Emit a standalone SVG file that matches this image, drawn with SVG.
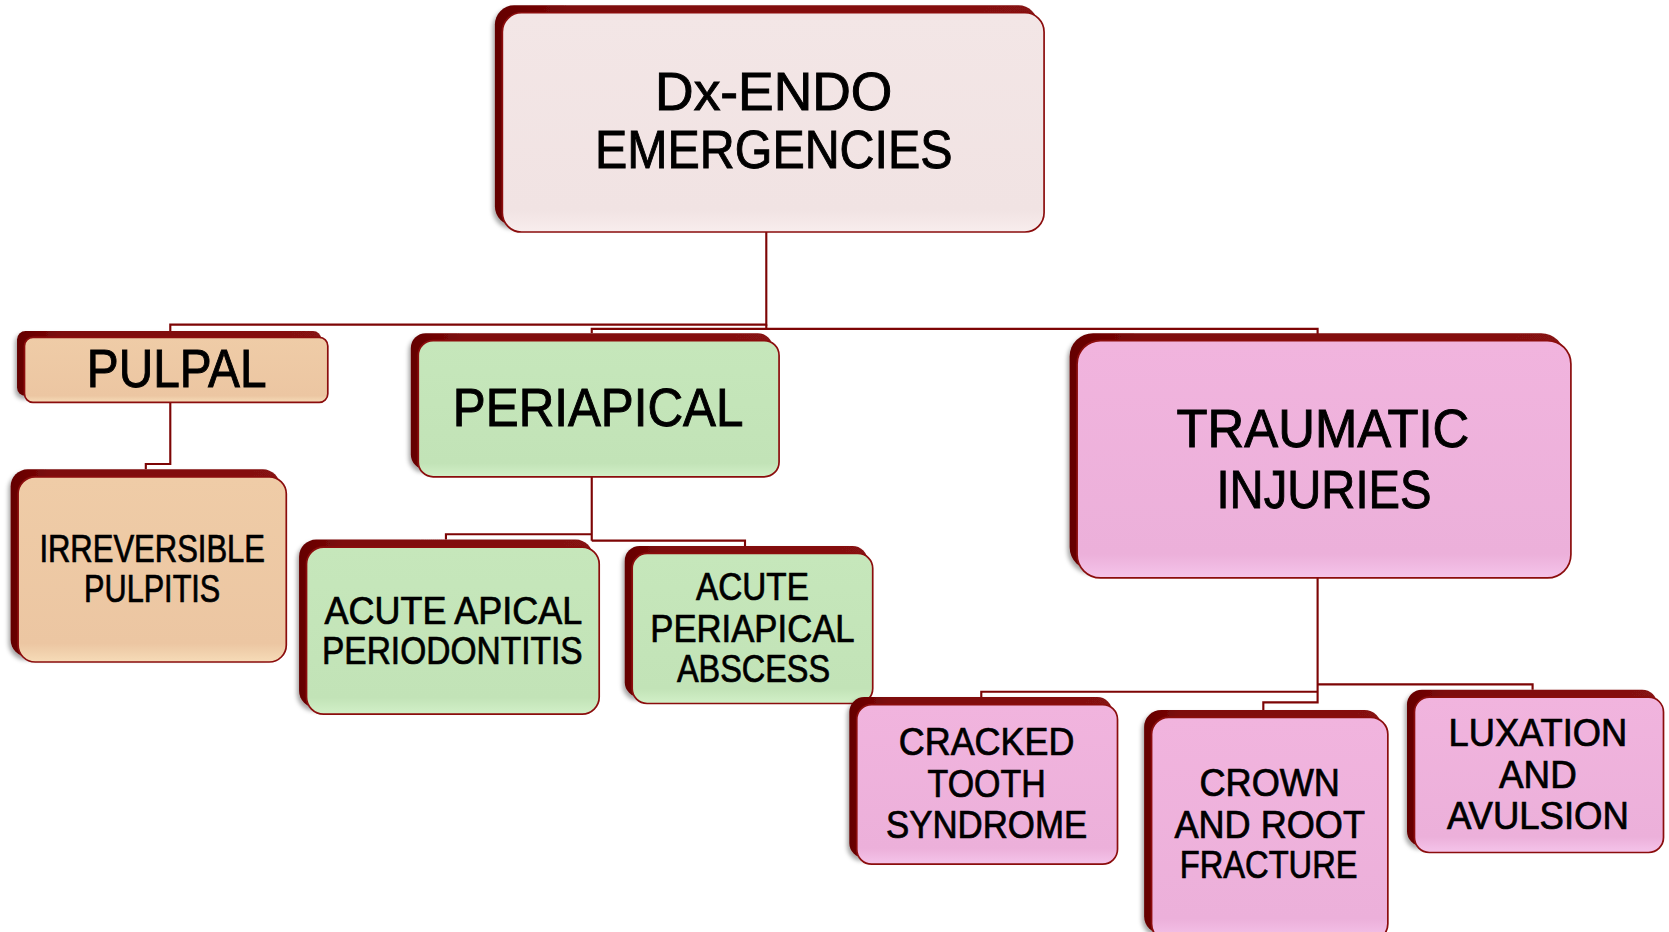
<svg xmlns="http://www.w3.org/2000/svg" width="1669" height="932" viewBox="0 0 1669 932">
<defs>
<style>
.back{fill:url(#gBack);}
.box{stroke:#8b0d0d;stroke-width:1.6;}
.rose{fill:url(#gRose);}
.peach{fill:url(#gPeach);}
.green{fill:url(#gGreen);}
.pink{fill:url(#gPink);}
.t{font-family:"Liberation Sans Narrow","Liberation Sans",Arial,sans-serif;fill:#000;stroke:#000;text-anchor:middle;}
.big{font-size:51px;stroke-width:0.9;}
.sm{font-size:36px;stroke-width:0.7;}
.conn{fill:none;stroke:#7d0505;stroke-width:2;}
</style>
<linearGradient id="gBack" x1="0" y1="0" x2="1" y2="0"><stop offset="0" stop-color="#640000"/><stop offset="0.15" stop-color="#7e0a0a"/><stop offset="1" stop-color="#861212"/></linearGradient>
<linearGradient id="gRose" x1="0" y1="0" x2="0" y2="1"><stop offset="0" stop-color="#f3e6e6"/><stop offset="0.9" stop-color="#f1e3e3"/><stop offset="1" stop-color="#f8eded"/></linearGradient>
<linearGradient id="gPeach" x1="0" y1="0" x2="0" y2="1"><stop offset="0" stop-color="#efcca7"/><stop offset="0.9" stop-color="#ecc6a2"/><stop offset="1" stop-color="#f6dcb8"/></linearGradient>
<linearGradient id="gGreen" x1="0" y1="0" x2="0" y2="1"><stop offset="0" stop-color="#c6e7bb"/><stop offset="0.9" stop-color="#c2e3b7"/><stop offset="1" stop-color="#d2f0c8"/></linearGradient>
<linearGradient id="gPink" x1="0" y1="0" x2="0" y2="1"><stop offset="0" stop-color="#f1b4de"/><stop offset="0.9" stop-color="#ecb0da"/><stop offset="1" stop-color="#f5c4ea"/></linearGradient>
<filter id="sh" x="-10%" y="-10%" width="120%" height="130%"><feDropShadow dx="-2" dy="3" stdDeviation="2" flood-color="#000" flood-opacity="0.35"/></filter>
</defs>
<rect width="1669" height="932" fill="#ffffff"/>
<g transform="scale(1.0643)">
<g id="connectors">
<path class="conn" d="M720,218 V305 H160 V311"/>
<path class="conn" d="M720,305 V309 M556,313 V309 H1238 V316"/>
<path class="conn" d="M160,378 V436 H137 V441"/>
<path class="conn" d="M556,448 V508 M556,502 H419 V507 M556,508 H700 V513"/>
<path class="conn" d="M1238,543 V660 H1187 V667 M1238,650 H922 V655 M1238,643 H1440 V648"/>
</g>
<g id="node-root">
<rect class="back" filter="url(#sh)" x="465" y="5" width="510" height="207" rx="18"/>
<rect class="box rose" x="472" y="12" width="509" height="206" rx="18"/>
<text class="t big" x="727" y="103" textLength="223" lengthAdjust="spacingAndGlyphs">Dx-ENDO</text>
<text class="t big" x="727" y="158" textLength="336" lengthAdjust="spacingAndGlyphs">EMERGENCIES</text>
</g>
<g id="node-pulpal">
<rect class="back" filter="url(#sh)" x="16" y="311" width="286" height="61" rx="8"/>
<rect class="box peach" x="23" y="317" width="285" height="61" rx="8"/>
<text class="t big" x="166" y="364" textLength="169" lengthAdjust="spacingAndGlyphs">PULPAL</text>
</g>
<g id="node-irreversible">
<rect class="back" filter="url(#sh)" x="10" y="441" width="253" height="176" rx="16"/>
<rect class="box peach" x="17" y="448" width="252" height="174" rx="16"/>
<text class="t sm" x="143" y="528" textLength="212" lengthAdjust="spacingAndGlyphs">IRREVERSIBLE</text>
<text class="t sm" x="143" y="566" textLength="128" lengthAdjust="spacingAndGlyphs">PULPITIS</text>
</g>
<g id="node-periapical">
<rect class="back" filter="url(#sh)" x="386" y="313" width="340" height="128" rx="14"/>
<rect class="box green" x="393" y="320" width="339" height="128" rx="14"/>
<text class="t big" x="562" y="400" textLength="273" lengthAdjust="spacingAndGlyphs">PERIAPICAL</text>
</g>
<g id="node-aap">
<rect class="back" filter="url(#sh)" x="281" y="507" width="276" height="158" rx="16"/>
<rect class="box green" x="288" y="514" width="275" height="157" rx="16"/>
<text class="t sm" x="426" y="586" textLength="242" lengthAdjust="spacingAndGlyphs">ACUTE APICAL</text>
<text class="t sm" x="425" y="624" textLength="245" lengthAdjust="spacingAndGlyphs">PERIODONTITIS</text>
</g>
<g id="node-apa">
<rect class="back" filter="url(#sh)" x="587" y="513" width="228" height="142" rx="14"/>
<rect class="box green" x="594" y="520" width="226" height="141" rx="14"/>
<text class="t sm" x="707" y="564" textLength="106" lengthAdjust="spacingAndGlyphs">ACUTE</text>
<text class="t sm" x="707" y="603" textLength="192" lengthAdjust="spacingAndGlyphs">PERIAPICAL</text>
<text class="t sm" x="708" y="641" textLength="144" lengthAdjust="spacingAndGlyphs">ABSCESS</text>
</g>
<g id="node-traumatic">
<rect class="back" filter="url(#sh)" x="1005" y="313" width="465" height="223" rx="22"/>
<rect class="box pink" x="1012" y="320" width="464" height="223" rx="22"/>
<text class="t big" x="1243" y="420" textLength="275" lengthAdjust="spacingAndGlyphs">TRAUMATIC</text>
<text class="t big" x="1244" y="477" textLength="202" lengthAdjust="spacingAndGlyphs">INJURIES</text>
</g>
<g id="node-cracked">
<rect class="back" filter="url(#sh)" x="798" y="655" width="247" height="151" rx="14"/>
<rect class="box pink" x="805" y="662" width="245" height="150" rx="14"/>
<text class="t sm" x="927" y="709" textLength="165" lengthAdjust="spacingAndGlyphs">CRACKED</text>
<text class="t sm" x="927" y="749" textLength="111" lengthAdjust="spacingAndGlyphs">TOOTH</text>
<text class="t sm" x="927" y="787" textLength="189" lengthAdjust="spacingAndGlyphs">SYNDROME</text>
</g>
<g id="node-crown">
<rect class="back" filter="url(#sh)" x="1075" y="667" width="223" height="210" rx="16"/>
<rect class="box pink" x="1082" y="674" width="222" height="210" rx="16"/>
<text class="t sm" x="1193" y="748" textLength="132" lengthAdjust="spacingAndGlyphs">CROWN</text>
<text class="t sm" x="1193" y="787" textLength="179" lengthAdjust="spacingAndGlyphs">AND ROOT</text>
<text class="t sm" x="1192" y="825" textLength="167" lengthAdjust="spacingAndGlyphs">FRACTURE</text>
</g>
<g id="node-luxation">
<rect class="back" filter="url(#sh)" x="1322" y="648" width="235" height="147" rx="14"/>
<rect class="box pink" x="1329" y="655" width="234" height="146" rx="14"/>
<text class="t sm" x="1445" y="701" textLength="168" lengthAdjust="spacingAndGlyphs">LUXATION</text>
<text class="t sm" x="1445" y="740" textLength="73" lengthAdjust="spacingAndGlyphs">AND</text>
<text class="t sm" x="1445" y="779" textLength="171" lengthAdjust="spacingAndGlyphs">AVULSION</text>
</g>
</g>
</svg>
